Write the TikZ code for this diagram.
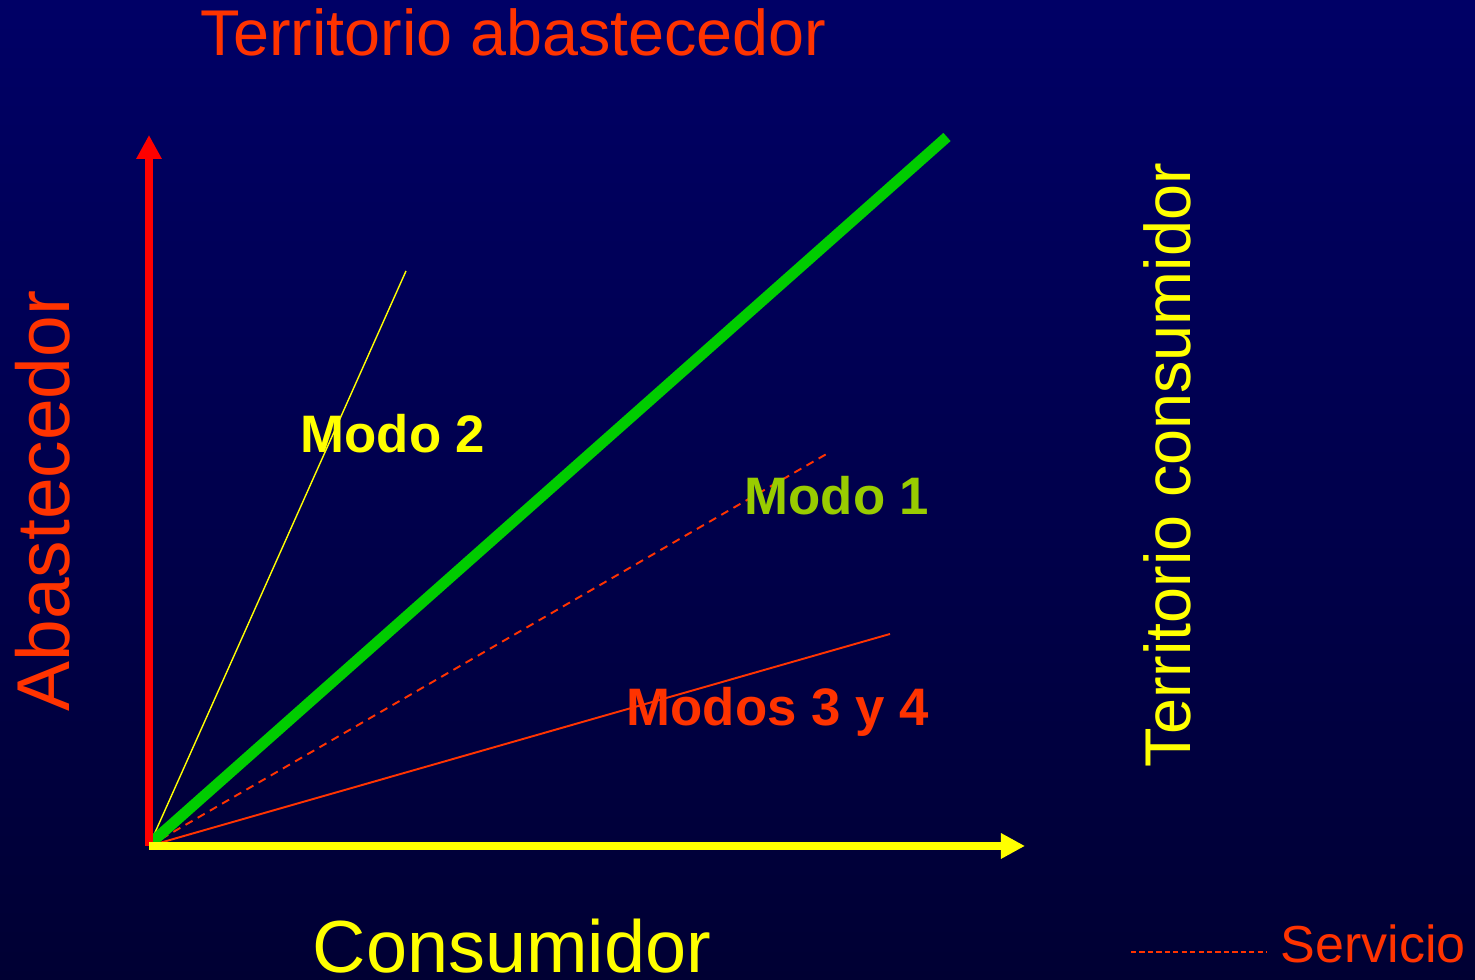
\documentclass[tikz,border=0pt]{standalone}
\usepackage{fontspec}
\setmainfont{Liberation Sans}
\usetikzlibrary{arrows.meta, positioning}

\definecolor{bgtop}{HTML}{000066}
\definecolor{bgbot}{HTML}{000033}
\definecolor{tred}{HTML}{FF3300}
\definecolor{axred}{HTML}{FF0000}
\definecolor{tyel}{HTML}{FFFF00}
\definecolor{lgreen}{HTML}{00CC00}
\definecolor{mgreen}{HTML}{99CC00}

\begin{document}
\begin{tikzpicture}[x=0.01cm,y=0.01cm,
   lbl/.style={inner sep=0pt, anchor=base west},
   big/.style={lbl, font=\fontsize{18.4}{22}\selectfont},
   modo/.style={lbl, font=\fontsize{15}{18}\selectfont\bfseries},
   axis/.style={line width=#1, -{Triangle[length=0.24cm,width=0.24cm]}},
   thin/.style={line width=0.55pt}]

   % Background
      \shade[top color=bgtop, bottom color=bgbot] (0,0) rectangle (1475,980);
      \useasboundingbox (0,0) rectangle (1475,980);

   % Points
      \coordinate (o)    at (149,134);
      \coordinate (ytip) at (149,845);
      \coordinate (xtip) at (1025,134);
      \coordinate (g0)   at (152,138);
      \coordinate (g1)   at (947,843);
      \coordinate (m2)   at (406,709);
      \coordinate (m1)   at (830,528);
      \coordinate (m34)  at (890,346);
      \coordinate (s0)   at (1131,28);
      \coordinate (s1)   at (1267,28);

   % Labels
      \node [big, tred]  (tabast) at (200,924) {Territorio abastecedor};
      \node [big, tyel, rotate=90] (tcons) at (1190,212) {Territorio consumidor};
      \node [lbl, tred, rotate=90, font=\fontsize{21.3}{25}\selectfont] (abast) at (69,268) {Abastecedor};
      \node [lbl, tyel, font=\fontsize{21}{25}\selectfont] (cons) at (312,7) {Consumidor};
      \node [lbl, tred, font=\fontsize{14.8}{18}\selectfont] (serv) at (1280,17) {Servicio};

   % Paths
      \draw [tyel, line width=0.4pt] (o) -- (m2);
      \draw [tred, thin, dash pattern=on 2.3pt off 1.7pt] (o) -- (m1);
      \draw [tred, thin] (o) -- (m34);
      \draw [lgreen, line width=3.1pt] (g0) -- (g1);
      \draw [axred, axis=2pt] (o) -- (ytip);
      \draw [tyel, axis=2.5pt] (o) -- (xtip);
      \draw [tred, line width=0.4pt, dash pattern=on 1.5pt off 0.9pt] (s0) -- (s1);

   % Modes
      \node [modo, tyel]   (modo2)  at (300,527) {Modo 2};
      \node [modo, mgreen] (modo1)  at (744,465) {Modo 1};
      \node [modo, tred]   (modo34) at (626,254) {Modos 3 y 4};
   \end{tikzpicture}
\end{document}
